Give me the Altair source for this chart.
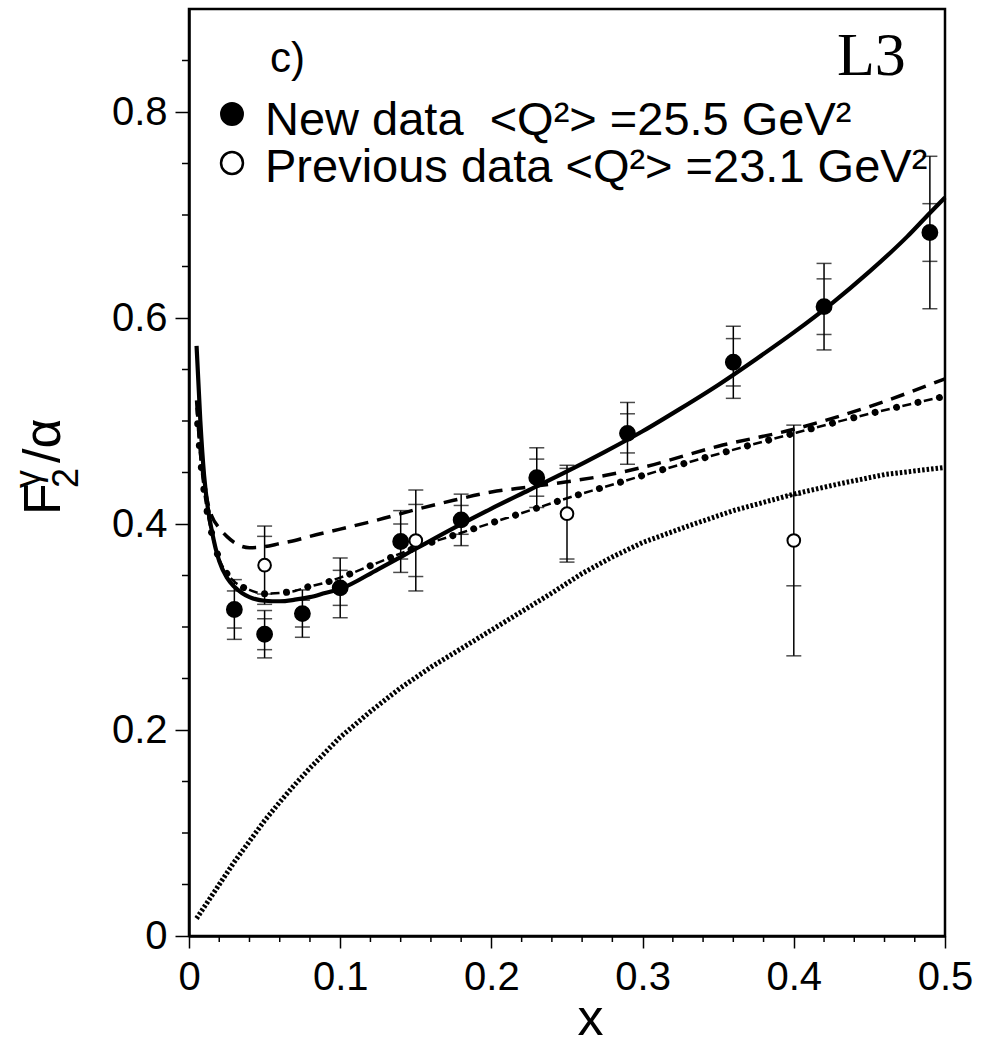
import altair as alt
import pandas as pd

# ---------------- data ----------------
# New data, <Q^2> = 25.5 GeV^2 (filled circles)
new_x = [0.03, 0.05, 0.075, 0.10, 0.14, 0.18, 0.23, 0.29, 0.36, 0.42, 0.49]
new_y = [0.317, 0.293, 0.313, 0.338, 0.383, 0.404, 0.445, 0.488, 0.557, 0.611, 0.683]
new_stat = [0.018, 0.015, 0.013, 0.017, 0.017, 0.014, 0.018, 0.019, 0.023, 0.027, 0.028]
new_tot = [0.029, 0.023, 0.023, 0.029, 0.030, 0.025, 0.029, 0.030, 0.035, 0.042, 0.074]

# Previous data, <Q^2> = 23.1 GeV^2 (open circles)
old_x = [0.05, 0.15, 0.25, 0.40]
old_y = [0.360, 0.384, 0.410, 0.384]
old_stat = [0.028, 0.035, 0.044, 0.044]
old_tot = [0.038, 0.049, 0.047, 0.112]

# Solid curve
solid_x = [0.005, 0.0075, 0.01, 0.0125, 0.015, 0.0175, 0.02, 0.025, 0.03, 0.035, 0.04,
           0.05, 0.06, 0.07, 0.08, 0.09, 0.10, 0.125, 0.15, 0.175, 0.20, 0.225, 0.25,
           0.275, 0.30, 0.325, 0.35, 0.375, 0.40, 0.425, 0.45, 0.475, 0.49, 0.50]
solid_y = [0.573, 0.500, 0.447, 0.415, 0.394, 0.377, 0.364, 0.348, 0.339, 0.333, 0.329,
           0.3255, 0.325, 0.3265, 0.329, 0.333, 0.337, 0.356, 0.376, 0.396, 0.415, 0.433, 0.451,
           0.470, 0.490, 0.512, 0.535, 0.560, 0.586, 0.614, 0.645, 0.679, 0.702, 0.717]

# Dashed curve
dash_x = [0.005, 0.0075, 0.01, 0.0125, 0.015, 0.02, 0.025, 0.03, 0.04, 0.05, 0.06, 0.07,
          0.08, 0.10, 0.125, 0.15, 0.175, 0.20, 0.225, 0.25, 0.275, 0.30, 0.35, 0.40,
          0.45, 0.50]
dash_y = [0.520, 0.470, 0.440, 0.420, 0.408, 0.396, 0.388, 0.382, 0.377, 0.378, 0.381, 0.384,
          0.388, 0.395, 0.404, 0.414, 0.423, 0.431, 0.436, 0.441, 0.447, 0.455, 0.4755, 0.492,
          0.514, 0.541]

# Dash-dot curve
dd_x = [0.005, 0.0075, 0.01, 0.015, 0.02, 0.025, 0.03, 0.04, 0.05, 0.06, 0.07, 0.08, 0.09,
        0.10, 0.125, 0.15, 0.175, 0.20, 0.225, 0.25, 0.275, 0.30, 0.35, 0.40, 0.45, 0.50]
dd_y = [0.513, 0.465, 0.432, 0.391, 0.366, 0.352, 0.344, 0.336, 0.3324, 0.333, 0.335, 0.3395,
        0.343, 0.348, 0.3625, 0.377, 0.389, 0.401, 0.413, 0.425, 0.436, 0.447, 0.468, 0.488,
        0.507, 0.524]

# Dotted curve
dot_x = [0.005, 0.01, 0.02, 0.03, 0.04, 0.05, 0.06, 0.07, 0.08, 0.09, 0.10, 0.12, 0.14,
         0.16, 0.18, 0.20, 0.22, 0.24, 0.26, 0.28, 0.30, 0.33, 0.36, 0.40, 0.43, 0.46, 0.50]
dot_y = [0.017, 0.028, 0.050, 0.072, 0.092, 0.112, 0.130, 0.147, 0.163, 0.178, 0.193, 0.218,
         0.241, 0.261, 0.279, 0.297, 0.315, 0.333, 0.352, 0.368, 0.382, 0.398, 0.413, 0.429,
         0.439, 0.448, 0.455]

x_major = [0, 0.1, 0.2, 0.3, 0.4, 0.5]
y_major = [0, 0.2, 0.4, 0.6, 0.8]
x_minor = [0.02, 0.04, 0.06, 0.08, 0.12, 0.14, 0.16, 0.18, 0.22, 0.24, 0.26, 0.28,
           0.32, 0.34, 0.36, 0.38, 0.42, 0.44, 0.46, 0.48]
y_minor = [0.05, 0.1, 0.15, 0.25, 0.3, 0.35, 0.45, 0.5, 0.55, 0.65, 0.7, 0.75, 0.85]

# ---------------- layout ----------------
W, H = 756, 927
FONT = "Liberation Sans"
NB = "\u00a0"

xs = alt.Scale(domain=[0, 0.5], nice=False, zero=False)
ys = alt.Scale(domain=[0, 0.9], nice=False, zero=False)

x_axis = alt.Axis(values=x_major, labelExpr="datum.value == 0 ? '0' : format(datum.value, '.1f')",
                  labelFontSize=40, labelFont=FONT, labelColor="black", labelPadding=9,
                  labelFlush=False, labelOverlap=False,
                  tickSize=12, tickWidth=1.5, tickColor="black",
                  domainColor="black", domainWidth=2.5, grid=False,
                  title="x", titleFont=FONT, titleFontSize=52, titleFontWeight="normal",
                  titleColor="black", titleX=401, titleY=98, titleBaseline="alphabetic",
                  titleAlign="center")
y_axis = alt.Axis(values=y_major, labelExpr="datum.value == 0 ? '0' : format(datum.value, '.1f')",
                  labelFontSize=40, labelFont=FONT, labelColor="black", labelPadding=8,
                  labelFlush=False, labelOverlap=False,
                  tickSize=14, tickWidth=1.5, tickColor="black",
                  domainColor="black", domainWidth=2.5, grid=False, title=None)


def curve_df(xv, yv):
    return pd.DataFrame({"x": xv, "y": yv})


dotted = alt.Chart(curve_df(dot_x, dot_y)).mark_line(
    color="black", strokeWidth=5, strokeDash=[2.5, 2]
).encode(x=alt.X("x:Q", scale=xs, axis=x_axis), y=alt.Y("y:Q", scale=ys, axis=y_axis))

dashed = alt.Chart(curve_df(dash_x, dash_y)).mark_line(
    color="black", strokeWidth=3.5, strokeDash=[14, 9], interpolate="monotone"
).encode(x=alt.X("x:Q", scale=xs), y=alt.Y("y:Q", scale=ys))

dd_dash = alt.Chart(curve_df(dd_x, dd_y)).mark_line(
    color="black", strokeWidth=2.5, strokeDash=[9, 13], interpolate="monotone"
).encode(x=alt.X("x:Q", scale=xs), y=alt.Y("y:Q", scale=ys))

dd_dots = alt.Chart(curve_df(dd_x, dd_y)).mark_line(
    color="black", strokeWidth=7, strokeDash=[0.01, 21.99], strokeDashOffset=6,
    strokeCap="round", interpolate="monotone"
).encode(x=alt.X("x:Q", scale=xs), y=alt.Y("y:Q", scale=ys))

solid = alt.Chart(curve_df(solid_x, solid_y)).mark_line(
    color="black", strokeWidth=4.2, interpolate="monotone"
).encode(x=alt.X("x:Q", scale=xs), y=alt.Y("y:Q", scale=ys))

# error bars: outer caps = total error, inner crossing ticks = statistical error
err_rows = []
cap_rows = []
for xv, yv, s, t in list(zip(new_x, new_y, new_stat, new_tot)) + list(zip(old_x, old_y, old_stat, old_tot)):
    err_rows.append({"x": xv, "lo": yv - t, "hi": yv + t})
    for c in (yv - t, yv - s, yv + s, yv + t):
        cap_rows.append({"x": xv, "y": c})
err_df = pd.DataFrame(err_rows)
cap_df = pd.DataFrame(cap_rows)

bars = alt.Chart(err_df).mark_rule(color="black", strokeWidth=1.5).encode(
    x=alt.X("x:Q", scale=xs), y=alt.Y("lo:Q", scale=ys), y2="hi:Q")
caps = alt.Chart(cap_df).mark_tick(color="black", orient="horizontal", size=15, thickness=1.5).encode(
    x=alt.X("x:Q", scale=xs), y=alt.Y("y:Q", scale=ys))

new_pts = alt.Chart(pd.DataFrame({"x": new_x, "y": new_y})).mark_point(
    shape="circle", filled=True, fill="black", stroke="black", size=220, opacity=1
).encode(x=alt.X("x:Q", scale=xs), y=alt.Y("y:Q", scale=ys))

old_pts = alt.Chart(pd.DataFrame({"x": old_x, "y": old_y})).mark_point(
    shape="circle", filled=True, fill="white", stroke="black", strokeWidth=2, size=160, opacity=1
).encode(x=alt.X("x:Q", scale=xs), y=alt.Y("y:Q", scale=ys))

# minor ticks
ymin = alt.Chart(pd.DataFrame({"v": y_minor})).mark_rule(color="black", strokeWidth=1.5).encode(
    y=alt.Y("v:Q", scale=ys), x=alt.value(-7), x2=alt.value(0))
xmin = alt.Chart(pd.DataFrame({"v": x_minor})).mark_rule(color="black", strokeWidth=1.5).encode(
    x=alt.X("v:Q", scale=xs), y=alt.value(H), y2=alt.value(H + 6))

# annotations (pixel positions inside the plot area)
one = pd.DataFrame({"a": [0]})


def label(text, px, py, size, font=FONT, angle=0, align="left", baseline="alphabetic"):
    return alt.Chart(one).mark_text(
        text=text, font=font, fontSize=size, color="black", align=align,
        baseline=baseline, angle=angle
    ).encode(x=alt.value(px), y=alt.value(py))


def marker(px, py, fill, size):
    return alt.Chart(one).mark_point(
        shape="circle", filled=True, fill=fill, stroke="black", strokeWidth=2.5,
        size=size, opacity=1
    ).encode(x=alt.value(px), y=alt.value(py))


ann = [
    label("c)", 81, 63, 42),
    label("L3", 648, 66, 62, font="Liberation Serif"),
    marker(43, 105, "black", 460),
    label("New data " + NB + "<Q²> =25.5 GeV²", 76, 126, 47),
    marker(43, 154, "white", 480),
    label("Previous data <Q²> =23.1 GeV²", 76, 173, 47),
    # y-axis title F_2^gamma / alpha
    label("F", -129, 506, 52, angle=270),
    label("γ", -149, 479, 36, angle=270),
    label("2", -111, 479, 36, angle=270),
    label("/α", -129, 454, 52, angle=270),
]

chart = alt.layer(
    dotted, dashed, dd_dash, dd_dots, solid, bars, caps, old_pts, new_pts, ymin, xmin, *ann
).properties(
    width=W, height=H,
    background="white",
    autosize=alt.AutoSizeParams(type="none"),
    padding={"left": 189, "top": 9, "right": 49, "bottom": 110},
).configure_view(stroke="black", strokeWidth=2.5)

chart.save("out.html", embed_options={"renderer": "svg", "actions": False})
